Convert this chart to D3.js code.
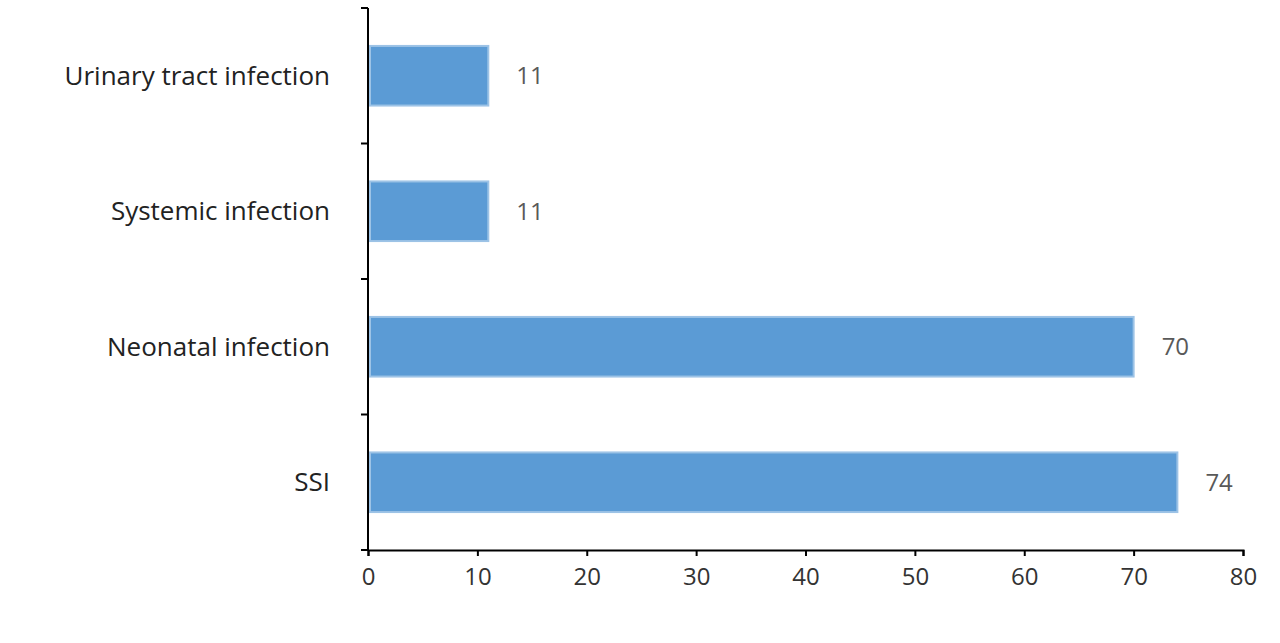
<!DOCTYPE html>
<html><head><meta charset="utf-8">
<script src="https://cdn.jsdelivr.net/npm/d3@7"></script>
<style>body{margin:0;background:#fff;font-family:"Open Sans","Liberation Sans",sans-serif;}</style>
</head><body><div id="chart"></div>
<script>
// data
var categories = ["Urinary tract infection", "Systemic infection", "Neonatal infection", "SSI"];
var values = [11, 11, 70, 74];
var xTicks = [0, 10, 20, 30, 40, 50, 60, 70, 80];

var svgWidth = 1280, svgHeight = 643;
var margin = {top: 8, right: 37, bottom: 93, left: 368};
var width = svgWidth - margin.left - margin.right;
var height = svgHeight - margin.top - margin.bottom;

var svg = d3.select("#chart").append("svg")
  .attr("width", svgWidth).attr("height", svgHeight);
var g = svg.append("g").attr("transform", `translate(${margin.left},${margin.top})`);

var x = d3.scaleLinear().domain([0, 80]).range([0, width]);
var y = d3.scaleBand().domain(categories).range([0, height]).paddingInner(0.56).paddingOuter(0.28);

// bars
g.selectAll("rect.bar").data(values).enter().append("rect")
  .attr("class", "bar")
  .attr("x", 2)
  .attr("y", (d, i) => y(categories[i]))
  .attr("width", d => x(d) - 2)
  .attr("height", y.bandwidth())
  .attr("fill", "#5b9bd5")
  .attr("stroke", "#9dc3e6")
  .attr("stroke-width", 2);

// value labels
g.selectAll("text.val").data(values).enter().append("text")
  .attr("x", d => x(d) + 28)
  .attr("y", (d, i) => y(categories[i]) + y.bandwidth() / 2)
  .attr("dy", "0.35em")
  .attr("font-size", 24)
  .attr("fill", "#595959")
  .text(d => d);

// x axis
var xAxis = g.append("g").attr("transform", `translate(0,${height})`)
  .call(d3.axisBottom(x).tickValues(xTicks).tickSize(6).tickPadding(12));
xAxis.selectAll("text").attr("font-size", 24).attr("fill", "#333")
  .attr("font-family", "'Open Sans','Liberation Sans',sans-serif");

// y axis with ticks on category boundaries
var yAxisG = g.append("g");
yAxisG.append("line").attr("x1", 0).attr("x2", 0).attr("y1", 0).attr("y2", height)
  .attr("stroke", "#000").attr("stroke-width", 2);
var step = height / categories.length;
yAxisG.selectAll("line.tk").data(d3.range(categories.length + 1)).enter().append("line")
  .attr("x1", -7).attr("x2", 0)
  .attr("y1", d => d * step).attr("y2", d => d * step)
  .attr("stroke", "#000").attr("stroke-width", 2);
xAxis.select(".domain").attr("stroke-width", 2);
xAxis.selectAll(".tick line").attr("stroke-width", 2);

// category labels
g.selectAll("text.cat").data(categories).enter().append("text")
  .attr("x", -38)
  .attr("y", d => y(d) + y.bandwidth() / 2)
  .attr("dy", "0.35em")
  .attr("text-anchor", "end")
  .attr("font-size", 26)
  .attr("fill", "#222")
  .text(d => d);
</script>
</body></html>
